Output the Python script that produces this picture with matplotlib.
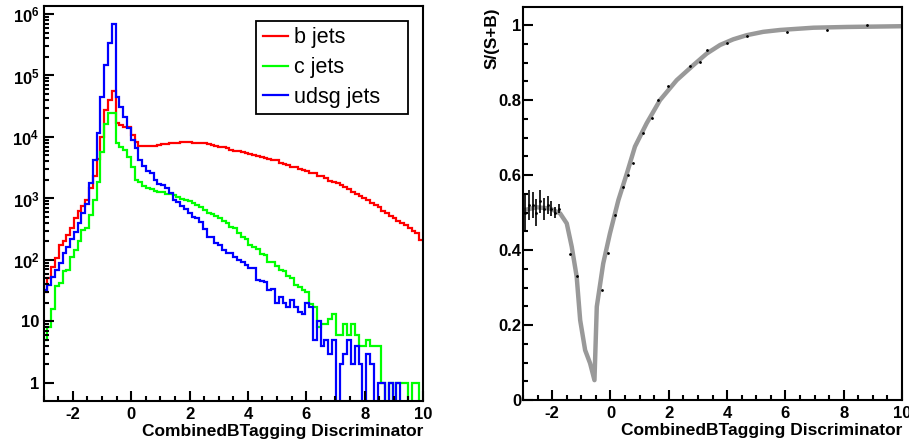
import numpy as np
import matplotlib
matplotlib.use("Agg")
import matplotlib.pyplot as plt
from matplotlib.ticker import MultipleLocator, FixedLocator, NullFormatter, FuncFormatter

plt.rcParams['font.family'] = ['Liberation Sans', 'DejaVu Sans']
plt.rcParams['mathtext.fontset'] = 'custom'
plt.rcParams['mathtext.rm'] = 'Liberation Sans'
plt.rcParams['mathtext.bf'] = 'Liberation Sans:bold'
plt.rcParams['axes.unicode_minus'] = False

# 100 bins from -3 to 10
bin_edges = np.linspace(-3, 10, 101)

b_jets = [30, 50, 78, 107, 178, 200, 257, 331, 479, 617,
          759, 955, 1480, 2290, 4370, 10000, 27500, 39800, 55000, 16600,
          15800, 14800, 14800, 10700, 8300, 7200, 7100, 7100, 7100, 7200,
          7400, 7600, 7800, 7900, 8100, 8100, 8300, 8300, 8300, 8100,
          8100, 7900, 7900, 7600, 7400, 7100, 6900, 6800, 6500, 6200,
          6000, 5900, 5600, 5500, 5200, 5000, 4900, 4700, 4500, 4400,
          4300, 4200, 3800, 3600, 3500, 3300, 3200, 3000, 2900, 2800,
          2600, 2570, 2340, 2290, 2140, 1950, 1860, 1780, 1660, 1550,
          1410, 1290, 1170, 1100, 1000, 930, 850, 790, 720, 630,
          575, 525, 480, 435, 400, 365, 330, 295, 275, 215]

c_jets = [5, 8, 16, 38, 42, 65, 69, 113, 145, 200,
          305, 330, 540, 960, 1860, 5800, 16500, 25000, 25000, 7900,
          6900, 6100, 4800, 3300, 2000, 1820, 1600, 1480, 1440, 1320,
          1290, 1260, 1200, 1170, 1120, 1070, 980, 950, 910, 830,
          790, 740, 660, 590, 550, 510, 480, 430, 400, 350,
          330, 275, 240, 220, 175, 160, 150, 126, 120, 93,
          91, 80, 69, 65, 55, 50, 39, 37, 32, 30,
          19, 17, 8, 9, 9, 11, 13, 6, 6, 9,
          6, 9, 6, 4, 4, 5, 4, 4, 4, 1,
          0, 1, 0, 1, 1, 1, 0, 1, 1, 0]

udsg_jets = [33, 39, 52, 69, 89, 130, 160, 220, 290, 400,
             580, 800, 1800, 4200, 11500, 45000, 148000, 340000, 690000, 44000,
             31000, 21000, 14000, 8900, 6500, 4300, 3400, 2800, 2600, 2000,
             1750, 1650, 1480, 1230, 950, 890, 760, 680, 575, 500,
             480, 420, 316, 240, 240, 186, 174, 145, 129, 129,
             112, 100, 91, 83, 74, 74, 47, 45, 44, 33,
             34, 20, 25, 20, 17, 22, 17, 14, 13, 20,
             17, 5, 10, 4, 5, 3, 5, 0, 2, 3,
             5, 2, 4, 2, 0, 3, 2, 0, 1, 1,
             0, 1, 0, 1, 0, 0, 0, 0, 0, 0]

# right panel: smooth purity curve S/(S+B)
curve_x = [-3.0, -2.93, -2.53, -2.08, -1.73, -1.5, -1.33, -1.16, -1.04, -0.87,
           -0.70, -0.55, -0.47, -0.25, -0.02, 0.27, 0.56, 0.84, 1.24, 1.70,
           2.27, 2.84, 3.30, 3.76, 4.21, 4.67, 5.24, 5.82, 6.96, 8.1, 10.0]
curve_y = [0.505, 0.507, 0.514, 0.511, 0.498, 0.471, 0.409, 0.329, 0.213, 0.133,
           0.098, 0.053, 0.249, 0.364, 0.444, 0.533, 0.604, 0.676, 0.738, 0.80,
           0.853, 0.893, 0.924, 0.947, 0.962, 0.973, 0.982, 0.987, 0.993, 0.995, 0.997]

# per-bin points with errors (low discriminator region)
pt_x = [-2.935, -2.805, -2.675, -2.545, -2.415, -2.285, -2.155, -2.025, -1.895, -1.765]
pt_y = [0.50, 0.52, 0.52, 0.50, 0.53, 0.51, 0.52, 0.51, 0.50, 0.51]
pt_err = [0.05, 0.04, 0.035, 0.035, 0.03, 0.03, 0.025, 0.02, 0.015, 0.012]

# other visible points along the curve
dot_x = [-1.39, -1.16, -0.30, -0.07, 0.16, 0.44, 0.61, 0.76, 1.13, 1.41, 1.64, 1.98,
         2.73, 3.07, 3.30, 3.99, 4.67, 6.05, 7.42, 8.79]
dot_y = [0.389, 0.33, 0.293, 0.391, 0.493, 0.569, 0.60, 0.631, 0.711, 0.751, 0.80, 0.837,
         0.892, 0.902, 0.933, 0.951, 0.971, 0.982, 0.988, 0.999]

decades = [1, 10, 100, 1e3, 1e4, 1e5, 1e6]

fig = plt.figure(figsize=(9.09, 4.46), dpi=100)
ax1 = fig.add_axes([0.0479, 0.1009, 0.4175, 0.8857])
ax2 = fig.add_axes([0.5754, 0.1031, 0.4169, 0.881])

lw_hist = 1.6
ax1.stairs(b_jets, bin_edges, baseline=None, color='#ff0000', lw=lw_hist, label='b jets')
ax1.stairs(c_jets, bin_edges, baseline=None, color='#00ff00', lw=lw_hist, label='c jets')
ax1.stairs(udsg_jets, bin_edges, baseline=None, color='#0000ff', lw=lw_hist, label='udsg jets')
ax1.set_yscale('log')
ax1.set_xlim(-3, 10)
ax1.set_ylim(0.509, 1.35e6)


def log_fmt(v, pos):
    if v == 1:
        return '1'
    if v == 10:
        return '10'
    return r'$\mathbf{10^{%d}}$' % int(round(np.log10(v)))


minor_pos = [m * d for d in decades for m in range(2, 10) if m * d < 1.35e6]
ax1.yaxis.set_major_locator(FixedLocator(decades))
ax1.yaxis.set_minor_locator(FixedLocator(minor_pos))
ax1.yaxis.set_major_formatter(FuncFormatter(log_fmt))
ax1.yaxis.set_minor_formatter(NullFormatter())

leg = ax1.legend(loc='upper left', bbox_to_anchor=(0.56, 0.747, 0.40, 0.215), mode='expand',
                 borderaxespad=0, fontsize=15.5, frameon=True, fancybox=False,
                 edgecolor='black', framealpha=1, handlelength=1.2, handletextpad=0.28,
                 labelspacing=0.4, borderpad=0.3)
leg.get_frame().set_linewidth(1.3)

ax2.plot(curve_x, curve_y, color='#999999', lw=3.2, solid_capstyle='butt', zorder=2)
ax2.errorbar(pt_x, pt_y, yerr=pt_err, fmt='.', color='black', ms=2, elinewidth=1.2,
             capsize=0, zorder=3)
ax2.plot(dot_x, dot_y, '.', color='black', ms=2, zorder=3)
ax2.set_xlim(-3, 10)
ax2.set_ylim(0, 1.048)
ax2.yaxis.set_major_locator(MultipleLocator(0.2))
ax2.yaxis.set_minor_locator(MultipleLocator(0.05))
ax2.yaxis.set_major_formatter(FuncFormatter(lambda v, p: '%g' % round(v, 2)))
ax2.set_ylabel('S/(S+B)', loc='top', fontsize=12.3, fontweight='bold', labelpad=-1)

for ax in (ax1, ax2):
    ax.xaxis.set_major_locator(MultipleLocator(2))
    ax.xaxis.set_minor_locator(MultipleLocator(0.5))
    ax.tick_params(which='both', direction='in', top=False, right=False, width=1.5)
    ax.tick_params(which='major', length=7.5, labelsize=12)
    ax.tick_params(which='minor', length=3.8)
    ax.tick_params(axis='x', pad=4.5)
    for lab in ax.get_xticklabels() + ax.get_yticklabels():
        lab.set_fontweight('bold')
    for s in ax.spines.values():
        s.set_linewidth(1.5)
    ax.set_xlabel('CombinedBTagging Discriminator', loc='right', fontsize=12.5,
                  fontweight='bold', labelpad=1)

ax1.tick_params(axis='y', pad=3)
ax2.tick_params(axis='y', pad=1)

fig.savefig('out.png', dpi=100)
